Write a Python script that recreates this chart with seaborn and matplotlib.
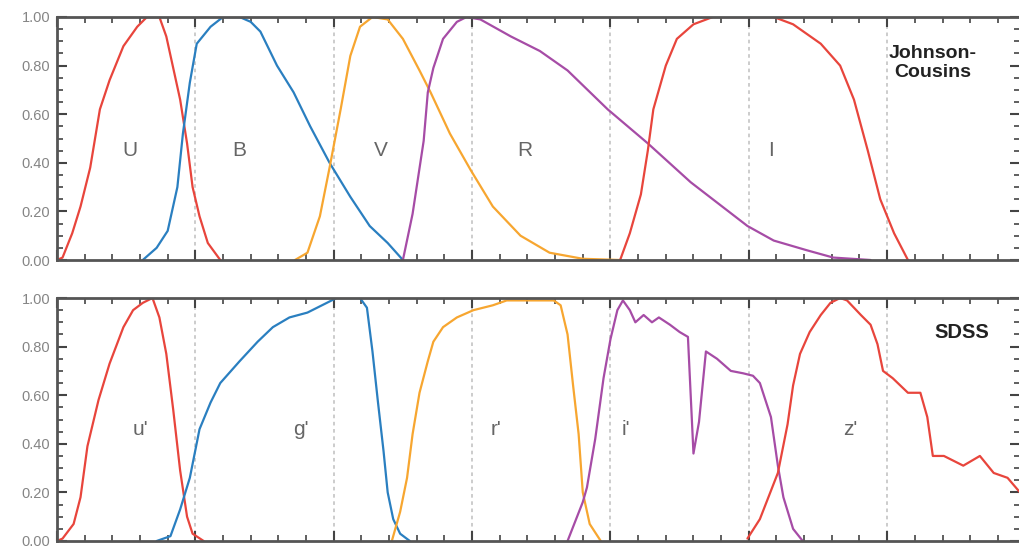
import numpy as np
import pandas as pd
import matplotlib
matplotlib.use('Agg')
import matplotlib.pyplot as plt
from matplotlib.ticker import MultipleLocator
import seaborn as sns

# Johnson-Cousins bands (wavelength nm, normalised throughput)
u_wl = [300, 304, 311, 317, 324, 331, 338, 348, 358, 365, 374, 379, 384, 389, 394, 398, 403, 409, 418]
u_tr = [0.0, 0.01, 0.11, 0.22, 0.38, 0.62, 0.74, 0.88, 0.96, 1.0, 1.0, 0.92, 0.79, 0.66, 0.48, 0.30, 0.18, 0.07, 0.0]
b_wl = [362, 372, 380, 387, 391, 396, 401, 411, 420, 432, 440, 447, 459, 471, 483, 497, 512, 526, 539, 550]
b_tr = [0.0, 0.05, 0.12, 0.30, 0.52, 0.73, 0.89, 0.96, 1.0, 1.0, 0.98, 0.94, 0.80, 0.69, 0.55, 0.40, 0.26, 0.14, 0.07, 0.0]
v_wl = [472, 481, 490, 497, 505, 512, 519, 528, 539, 550, 562, 570, 584, 599, 615, 635, 656, 680, 707]
v_tr = [0.0, 0.03, 0.18, 0.38, 0.62, 0.84, 0.96, 1.0, 0.99, 0.91, 0.78, 0.69, 0.52, 0.37, 0.22, 0.10, 0.03, 0.005, 0.0]
r_wl = [550, 557, 565, 568, 572, 579, 589, 596, 606, 628, 649, 664, 669, 698, 727, 758, 799, 818, 842, 861, 888]
r_tr = [0.0, 0.19, 0.49, 0.69, 0.79, 0.91, 0.98, 1.0, 0.99, 0.92, 0.86, 0.80, 0.78, 0.62, 0.48, 0.32, 0.14, 0.08, 0.04, 0.01, 0.0]
i_wl = [707, 714, 722, 727, 731, 740, 748, 760, 774, 818, 832, 852, 866, 876, 886, 895, 905, 915]
i_tr = [0.0, 0.11, 0.27, 0.45, 0.62, 0.80, 0.91, 0.97, 1.0, 1.0, 0.97, 0.89, 0.80, 0.66, 0.45, 0.25, 0.11, 0.0]

# SDSS bands
us_wl = [300, 304, 312, 317, 322, 330, 338, 348, 355, 362, 369, 374, 379, 384, 389, 394, 398, 406]
us_tr = [0.0, 0.01, 0.07, 0.18, 0.39, 0.58, 0.73, 0.88, 0.95, 0.98, 1.0, 0.92, 0.77, 0.54, 0.29, 0.10, 0.03, 0.0]
g_wl = [372, 382, 389, 396, 403, 411, 418, 432, 445, 456, 468, 481, 495, 502, 519, 524, 528, 532, 536, 539, 543, 548, 555]
g_tr = [0.0, 0.02, 0.13, 0.26, 0.46, 0.57, 0.65, 0.74, 0.82, 0.88, 0.92, 0.94, 0.98, 1.0, 1.0, 0.96, 0.78, 0.57, 0.37, 0.20, 0.09, 0.03, 0.0]
rs_wl = [542, 548, 553, 557, 562, 568, 572, 579, 589, 601, 615, 625, 659, 664, 669, 673, 677, 680, 685, 693]
rs_tr = [0.0, 0.12, 0.26, 0.44, 0.61, 0.74, 0.82, 0.88, 0.92, 0.95, 0.97, 0.99, 0.99, 0.97, 0.85, 0.64, 0.44, 0.20, 0.07, 0.0]
is_wl = [669, 680, 683, 689, 695, 700, 705, 709, 714, 718, 724, 730, 735, 743, 750, 756, 760, 764, 769,
         777, 787, 796, 803, 808, 816, 821, 825, 832, 839]
is_tr = [0.0, 0.16, 0.22, 0.42, 0.67, 0.83, 0.95, 0.99, 0.95, 0.90, 0.93, 0.90, 0.92, 0.89, 0.86, 0.84, 0.36, 0.49, 0.78,
         0.75, 0.70, 0.69, 0.68, 0.65, 0.51, 0.31, 0.18, 0.05, 0.0]
z_wl = [799, 808, 821, 828, 832, 837, 844, 852, 859, 866, 871, 881, 888, 893, 897, 904, 915, 924, 929, 933,
        941, 948, 955, 967, 977, 987, 996]
z_tr = [0.01, 0.09, 0.28, 0.48, 0.64, 0.77, 0.86, 0.93, 0.98, 1.0, 0.99, 0.93, 0.89, 0.81, 0.70, 0.67, 0.61, 0.61, 0.51, 0.35,
        0.35, 0.33, 0.31, 0.35, 0.28, 0.26, 0.20]

jc_labels = ['U', 'B', 'V', 'R', 'I']
jc_label_x = [353, 432, 534, 638, 816]
sdss_labels = ["u'", "g'", "r'", "i'", "z'"]
sdss_label_x = [360, 476, 617, 711, 873]

RED = '#e8453c'
BLUE = '#2a7fc0'
ORANGE = '#f7a630'
PURPLE = '#a64ca6'

sns.set_style('ticks')
plt.rcParams['font.family'] = ['Liberation Sans', 'DejaVu Sans']

fig = plt.figure(figsize=(10.2, 5.47), dpi=100)
ax1 = fig.add_axes([57 / 1020, 287 / 547, 963 / 1020, 243 / 547])
ax2 = fig.add_axes([57 / 1020, 6 / 547, 963 / 1020, 243 / 547])

top = [(u_wl, u_tr, RED), (b_wl, b_tr, BLUE), (v_wl, v_tr, ORANGE), (r_wl, r_tr, PURPLE), (i_wl, i_tr, RED)]
bottom = [(us_wl, us_tr, RED), (g_wl, g_tr, BLUE), (rs_wl, rs_tr, ORANGE), (is_wl, is_tr, PURPLE), (z_wl, z_tr, RED)]

for ax, curves in [(ax1, top), (ax2, bottom)]:
    for xw, yt, c in curves:
        df = pd.DataFrame({'wl': xw, 'tr': yt})
        sns.lineplot(data=df, x='wl', y='tr', ax=ax, color=c, linewidth=1.6,
                     sort=False, estimator=None)
    ax.set_xlim(300, 996)
    ax.set_ylim(0, 1)
    ax.xaxis.set_major_locator(MultipleLocator(100))
    ax.xaxis.set_minor_locator(MultipleLocator(20))
    ax.yaxis.set_minor_locator(MultipleLocator(0.05))
    ax.set_yticks(np.arange(0, 1.01, 0.2))
    ax.set_yticklabels(['{:.2f}'.format(v) for v in np.arange(0, 1.01, 0.2)])
    for v in range(400, 1000, 100):
        ax.axvline(v, color='#c8c8c8', linestyle=(0, (2, 2)), linewidth=1.3, zorder=0)
    ax.tick_params(which='both', direction='in', top=True, right=True, color='#444444')
    ax.tick_params(which='major', length=7, width=1.5)
    ax.tick_params(which='minor', length=4, width=1.2)
    ax.tick_params(axis='y', labelsize=10.5, labelcolor='#858585', pad=5)
    ax.tick_params(axis='x', labelbottom=False)
    for s in ax.spines.values():
        s.set_color('#555555')
        s.set_linewidth(2)
    ax.set_xlabel('')
    ax.set_ylabel('')

for lab, xl in zip(jc_labels, jc_label_x):
    ax1.text(xl, 0.45, lab, fontsize=15, color='#666666', ha='center', va='center')
for lab, xl in zip(sdss_labels, sdss_label_x):
    ax2.text(xl, 0.46, lab, fontsize=15, color='#666666', ha='center', va='center')

ax1.text(933, 0.81, 'Johnson-\nCousins', fontsize=14, color='#222222', ha='center', va='center',
         fontweight='semibold', linespacing=1.15)
ax2.text(954, 0.86, 'SDSS', fontsize=14.5, color='#222222', ha='center', va='center', fontweight='semibold')

plt.savefig('out.png', dpi=100)
